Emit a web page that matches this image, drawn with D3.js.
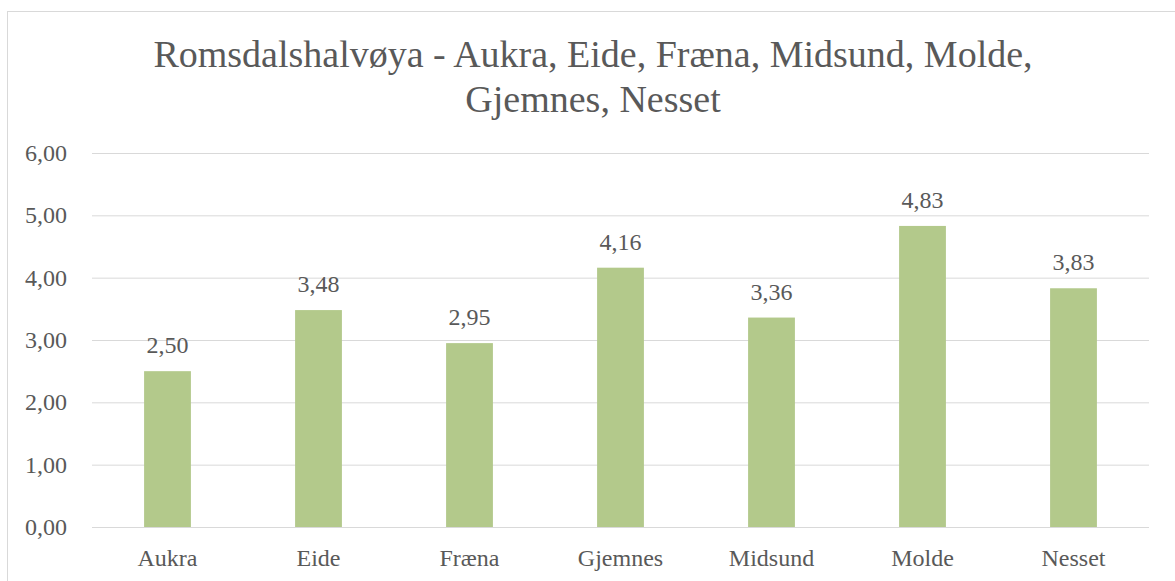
<!DOCTYPE html>
<html>
<head>
<meta charset="utf-8">
<script src="https://cdn.jsdelivr.net/npm/d3@7"></script>
<style>
  html, body { margin: 0; padding: 0; background: #fff; }
  #chart { width: 1175px; height: 581px; }
  text { font-family: "Liberation Serif", "DejaVu Serif", serif; fill: #595959; }
</style>
</head>
<body>
<div id="chart"></div>
<script>
const categories = ["Aukra", "Eide", "Fræna", "Gjemnes", "Midsund", "Molde", "Nesset"];
const values = [2.50, 3.48, 2.95, 4.16, 3.36, 4.83, 3.83];
const yTicks = [0, 1, 2, 3, 4, 5, 6];
const titleLines = ["Romsdalshalvøya - Aukra, Eide, Fræna, Midsund, Molde,", "Gjemnes, Nesset"];

function drawChart(selector) {
    const container = d3.select(selector);
    container.selectAll("*").remove();

    const width = 1175;
    const height = 581;
    const plot = { left: 92, right: 1149, top: 153, bottom: 527 };
    const fmt = v => d3.format(".2f")(v).replace(".", ",");

    const svg = container.append("svg")
        .attr("width", width)
        .attr("height", height);

    // chart frame (only top and left edges visible in the crop)
    svg.append("rect")
        .attr("x", 7.5)
        .attr("y", 11.5)
        .attr("width", 1200)
        .attr("height", 600)
        .style("fill", "#fff")
        .style("stroke", "#d9d9d9")
        .style("stroke-width", 1);

    // Title
    svg.selectAll(".title")
        .data(titleLines)
        .enter()
        .append("text")
        .attr("x", 593)
        .attr("y", (d, i) => 67 + i * 45)
        .attr("text-anchor", "middle")
        .style("font-size", "38px")
        .text(d => d);

    const x = d3.scaleBand()
        .domain(categories)
        .range([plot.left, plot.right])
        .padding(0);

    const y = d3.scaleLinear()
        .domain([0, 6])
        .range([plot.bottom, plot.top]);

    // Grid
    svg.selectAll(".grid")
        .data(yTicks)
        .enter()
        .append("line")
        .attr("x1", plot.left)
        .attr("x2", plot.right)
        .attr("y1", d => y(d) + 0.5)
        .attr("y2", d => y(d) + 0.5)
        .style("stroke", "#d9d9d9")
        .style("stroke-width", 1);

    // Y labels
    svg.selectAll(".ylabel")
        .data(yTicks)
        .enter()
        .append("text")
        .attr("x", 67)
        .attr("y", d => y(d))
        .attr("dy", "0.33em")
        .attr("text-anchor", "end")
        .style("font-size", "24px")
        .text(d => fmt(d));

    // Bars
    const barW = x.bandwidth() * 0.31;
    svg.selectAll(".bar")
        .data(values)
        .enter()
        .append("rect")
        .attr("x", (d, i) => x(categories[i]) + (x.bandwidth() - barW) / 2)
        .attr("width", barW)
        .attr("y", d => y(d))
        .attr("height", d => y(0) - y(d))
        .style("fill", "#b3c98b");

    // Values
    svg.selectAll(".value")
        .data(values)
        .enter()
        .append("text")
        .attr("x", (d, i) => x(categories[i]) + x.bandwidth() / 2)
        .attr("y", d => y(d) - 18)
        .attr("text-anchor", "middle")
        .style("font-size", "24px")
        .text(d => fmt(d));

    // Category labels
    svg.selectAll(".xlabel")
        .data(categories)
        .enter()
        .append("text")
        .attr("x", d => x(d) + x.bandwidth() / 2)
        .attr("y", 566)
        .attr("text-anchor", "middle")
        .style("font-size", "24px")
        .text(d => d);
}

drawChart("#chart");
</script>
</body>
</html>
